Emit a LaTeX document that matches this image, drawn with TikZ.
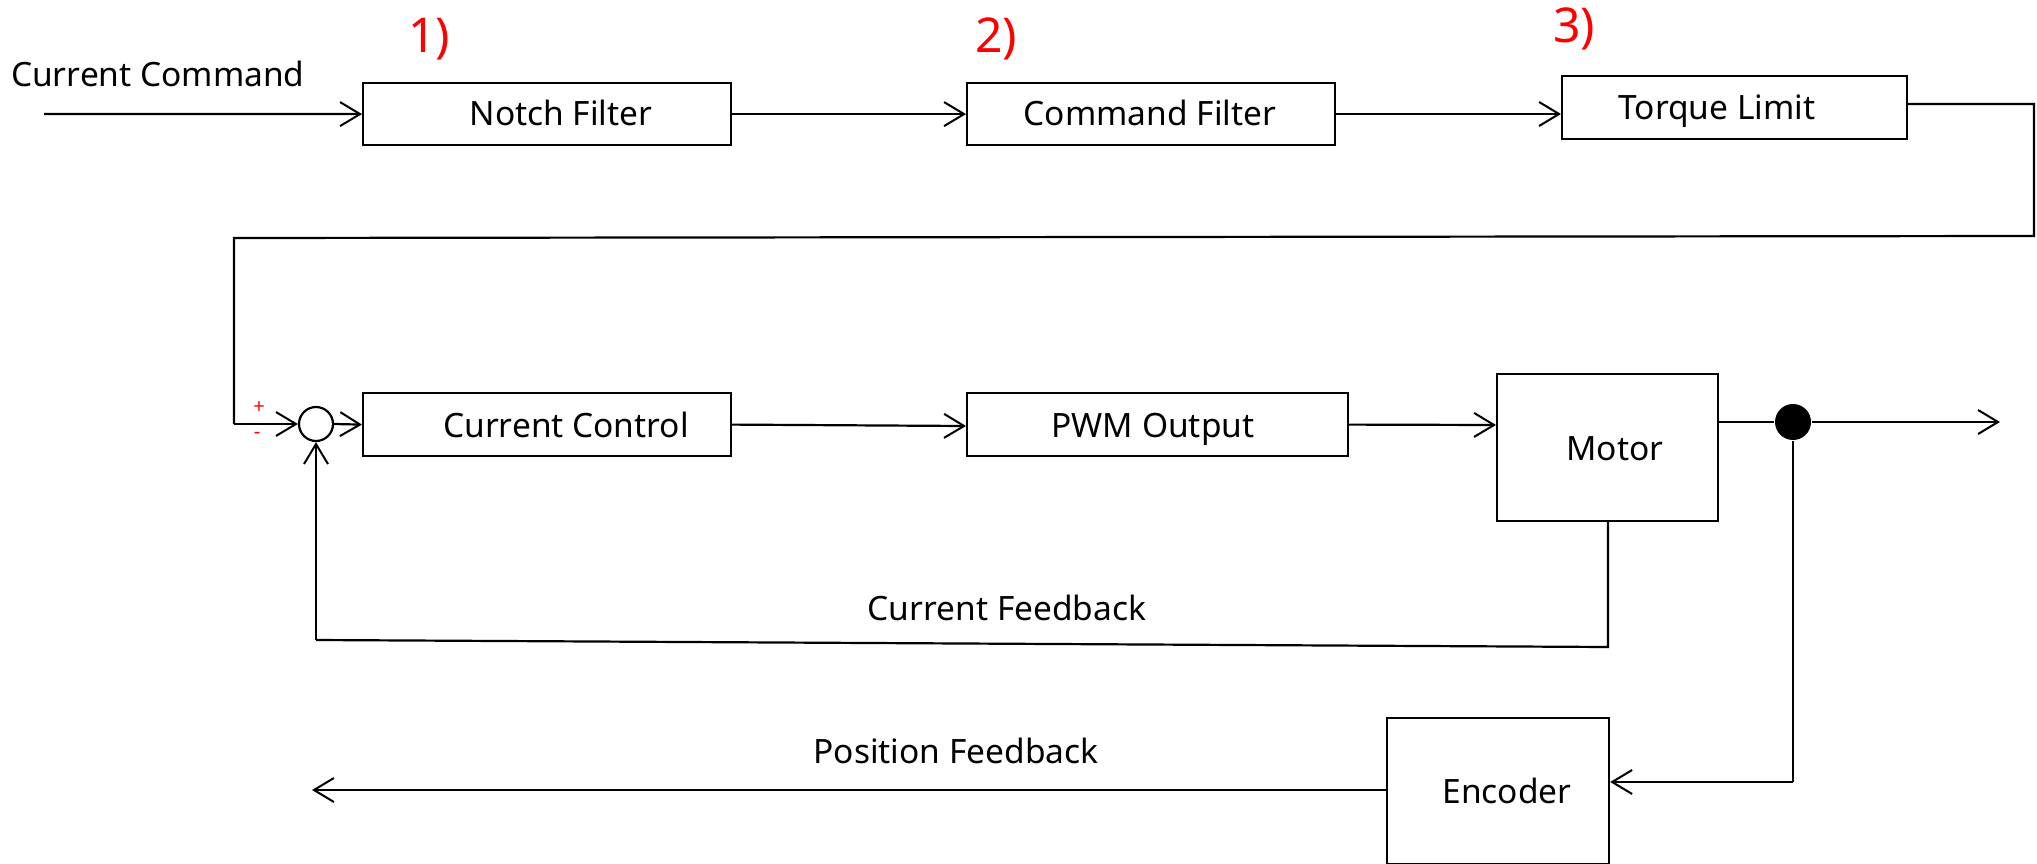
\documentclass[tikz,border=0pt]{standalone}
\usepackage{fontspec}
\setmainfont{Noto Sans}
\usetikzlibrary{arrows.meta}
\begin{document}
\begin{tikzpicture}[x=1pt,y=-1pt,
  line width=2.2pt,
  box/.style={draw,line width=2.2pt,inner sep=0pt,anchor=north west},
  lbl/.style={font=\fontsize{33.5}{38}\selectfont,anchor=base,inner sep=0pt},
  num/.style={font=\fontsize{48}{52}\selectfont,text=red,anchor=base,inner sep=0pt},
  arr/.style={-{Straight Barb[length=20pt,width=24pt,line width=2pt]}},
  sgn/.style={font=\fontsize{20}{22}\selectfont,text=red,inner sep=0pt}]
\useasboundingbox (0,0) rectangle (2037,864);
% boxes
\node[box,minimum width=368pt,minimum height=62pt] (notch) at (362,82) {};
\node[box,minimum width=368pt,minimum height=62pt] (cmdf) at (966,82) {};
\node[box,minimum width=345pt,minimum height=63pt] (torque) at (1561,75) {};
\node[box,minimum width=368pt,minimum height=63pt] (cc) at (362,392) {};
\node[box,minimum width=381pt,minimum height=63pt] (pwm) at (966,392) {};
\node[box,minimum width=221pt,minimum height=147pt] (motor) at (1496,373) {};
\node[box,minimum width=222pt,minimum height=146pt] (enc) at (1386,717) {};
\node[draw,circle,line width=2.2pt,minimum size=34pt,inner sep=0pt] (sum) at (316,424) {};
\node[fill,circle,minimum size=36pt,inner sep=0pt] (dot) at (1793,422) {};
% texts
\node[lbl,anchor=base west] (tcmd) at (10,87) {Current Command};
\node[lbl] (tnotch) at (561,126) {Notch Filter};
\node[lbl] (tcmdf) at (1150,126) {Command Filter};
\node[lbl] (ttorque) at (1717,120) {Torque Limit};
\node[lbl] (tcc) at (566,437) {Current Control};
\node[lbl] (tpwm) at (1153,437) {PWM Output};
\node[lbl] (tmotor) at (1615,460) {Motor};
\node[lbl] (tenc) at (1507,803) {Encoder};
\node[lbl] (tcf) at (1007,620) {Current Feedback};
\node[lbl] (tpf) at (956,763) {Position Feedback};
\node[num] (n1) at (429,53) {1)};
\node[num] (n2) at (996,53) {2)};
\node[num] (n3) at (1574,43) {3)};
\node[sgn] (plus) at (259,408) {+};
\node[sgn] (minus) at (257,435) {-};
% coordinates
\coordinate (start) at (44,114);
\coordinate (tr1) at (2034,104);
\coordinate (tr2) at (2034,236);
\coordinate (tl1) at (234,238);
\coordinate (tl2) at (234,424);
\coordinate (mb) at (1608,647);
\coordinate (fbl) at (316,640);
\coordinate (out) at (2000,422);
\coordinate (encr) at (1793,782);
\coordinate (pfend) at (312,790);
% connectors
\draw[arr] (start) -- (notch.west);
\draw[arr] (notch.east) -- (cmdf.west);
\draw[arr] (cmdf.east |- 0,114) -- (torque.west |- 0,114);
\draw (torque.east |- tr1) -- (tr1) -- (tr2) -- (tl1) -- (tl2);
\draw[arr] (tl2) -- (sum.west);
\draw[arr] (sum.east) -- (cc.west);
\draw[arr] (cc.east) -- (pwm.west |- 0,426);
\draw[arr] (pwm.east) -- (motor.west |- 0,425);
\draw (motor.east |- dot) -- (dot);
\draw[arr] (dot) -- (out);
\draw (motor.south -| mb) -- (mb) -- (fbl);
\draw[arr] (fbl) -- (sum.south);
\draw (dot) -- (encr);
\draw[arr] (encr) -- (enc.east |- encr);
\draw[arr] (enc.west |- pfend) -- (pfend);
\end{tikzpicture}
\end{document}
